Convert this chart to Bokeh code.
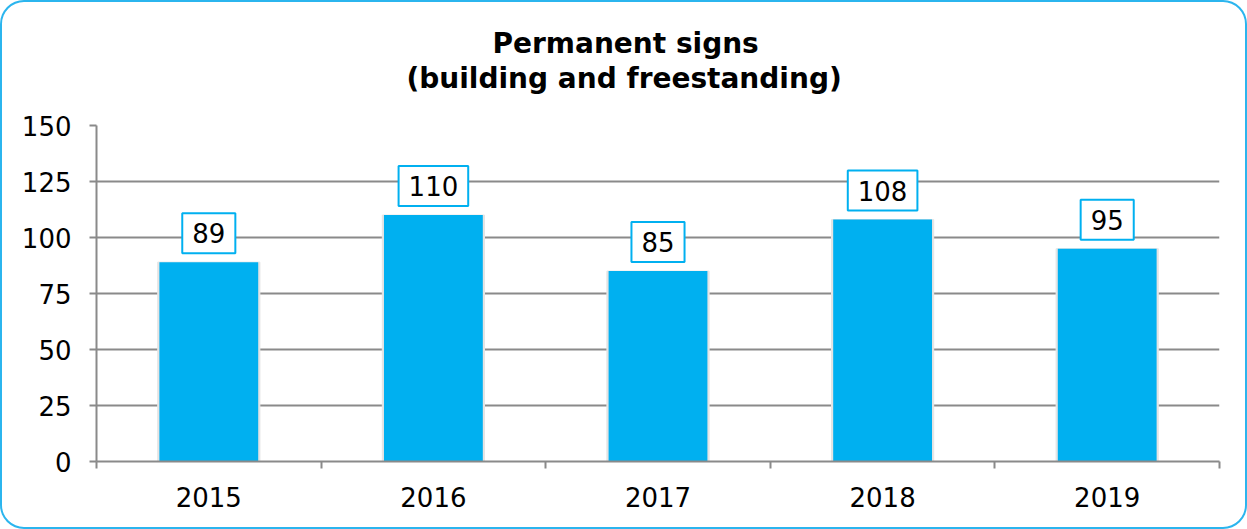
from bokeh.plotting import figure
from bokeh.models import FixedTicker, Label, Range1d, Title, LinearAxis
from bokeh.embed import file_html
from bokeh.resources import INLINE

years = ["2015", "2016", "2017", "2018", "2019"]
counts = [89, 110, 85, 108, 95]
y_ticks = [0, 25, 50, 75, 100, 125, 150]
title_lines = ["Permanent signs", "(building and freestanding)"]
title_offsets = [396, 310]  # left offsets so each line is centred on the chart

BAR = "#00B0F0"
GRID = "#8a8a8a"
FONT = "DejaVu Sans"

p = figure(width=1247, height=529, output_backend="svg", toolbar_location=None,
           x_range=Range1d(0, len(years)), y_range=Range1d(0, 150),
           min_border_left=96, min_border_right=28, min_border_bottom=68, min_border_top=125)
p.styles = {"box-shadow": "inset 0 0 0 2px #2BB5EE", "border-radius": "24px"}
p.border_fill_color = None
p.background_fill_color = "white"
p.outline_line_color = None

# invisible spacer between frame and title
spacer = LinearAxis(ticker=FixedTicker(ticks=[2.5]), axis_line_color=None,
                    major_tick_line_color=None, minor_tick_line_color=None,
                    major_tick_in=0, major_tick_out=31, minor_tick_in=0, minor_tick_out=0,
                    major_label_standoff=0, major_label_overrides={2.5: ""},
                    major_label_text_font_size="1px", major_label_text_color=None)
p.add_layout(spacer, "above")

# title: first line in p.title (outermost), second line nearer the frame
t1 = p.title
t1.text = title_lines[0]
t2 = Title(text=title_lines[1])
p.add_layout(t2, "above")
for t, off in [(t1, title_offsets[0]), (t2, title_offsets[1])]:
    t.align = "left"
    t.offset = off
    t.standoff = 0
    t.text_font = FONT
    t.text_font_size = "28px"
    t.text_font_style = "bold"
    t.text_color = "black"

xs = [i + 0.5 for i in range(len(years))]
p.vbar(x=xs, top=counts, width=0.455, color="#e4e4e4")
p.vbar(x=xs, top=counts, width=0.44, color=BAR, line_color=None)

# x axis: boundary ticks as minor ticks, labels at centers
xa = p.below[0]
xa.ticker = FixedTicker(ticks=xs, minor_ticks=list(range(len(years) + 1)))
xa.major_label_overrides = {x: y for x, y in zip(xs, years)}
xa.major_tick_line_color = None
xa.minor_tick_line_color = GRID
xa.minor_tick_line_width = 2
xa.minor_tick_in = 0
xa.minor_tick_out = 7
xa.major_label_standoff = 18
p.xgrid.grid_line_color = None

ya = p.left[0]
ya.ticker = FixedTicker(ticks=y_ticks)
ya.minor_tick_line_color = None
ya.major_tick_in = 0
ya.major_tick_out = 7
ya.major_tick_line_color = GRID
ya.major_tick_line_width = 2
ya.major_label_standoff = 18
p.ygrid.grid_line_color = GRID
p.ygrid.grid_line_width = 2

for ax in (xa, ya):
    ax.axis_line_color = GRID
    ax.axis_line_width = 2
    ax.major_label_text_font = FONT
    ax.major_label_text_font_size = "26px"
    ax.major_label_text_color = "black"

for x, c in zip(xs, counts):
    p.add_layout(Label(x=x, y=c, y_offset=29, text=str(c), text_align="center",
                       text_baseline="middle", text_font=FONT, text_font_size="26px",
                       text_color="black", background_fill_color="white",
                       border_line_color=BAR, border_line_width=2,
                       padding=dict(x=10, y=10)))

open("out.html", "w").write(file_html(p, INLINE))
